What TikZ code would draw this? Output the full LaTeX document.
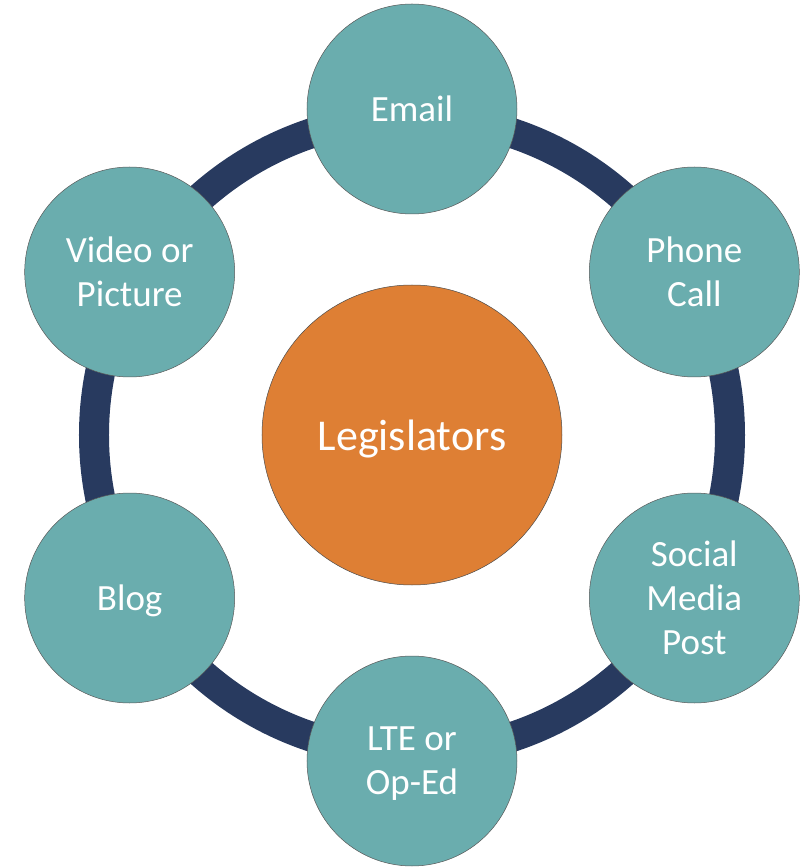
\documentclass[tikz,border=0pt]{standalone}
\usepackage{fontspec}
\setmainfont{Carlito}
\usetikzlibrary{positioning}
\definecolor{ringblue}{HTML}{283A5F}
\definecolor{huborange}{HTML}{DE7F34}
\definecolor{channelteal}{HTML}{6AADAE}

\begin{document}
\begin{tikzpicture}[x=1pt,y=1pt,
  hub/.style={circle, fill=huborange, draw=black!70, line width=0.5pt, minimum size=300pt, inner sep=0pt, text=white, text depth=0pt, font=\fontsize{44}{52}\selectfont},
  channel/.style={circle, fill=channelteal, draw=black!65, line width=0.5pt, minimum size=210pt, inner sep=0pt, text=white, text depth=0pt, align=center, font=\fontsize{37}{44}\selectfont}]
\useasboundingbox (-412,-432) rectangle (398,435);

\node[hub] (leg) at (0,0) {Legislators};

% ring behind the channels
\draw[ringblue, line width=30pt] (leg.center) circle (318);

\node[channel] (email) at (90:326) {Email};
\node[channel] (phone) at (30:326) {Phone\\Call};
\node[channel] (social) at (-30:326) {Social\\Media\\Post};
\node[channel] (lte) at (-90:326) {LTE or\\Op-Ed};
\node[channel] (blog) at (-150:326) {Blog};
\node[channel] (video) at (150:326) {Video or\\Picture};
\end{tikzpicture}
\end{document}
